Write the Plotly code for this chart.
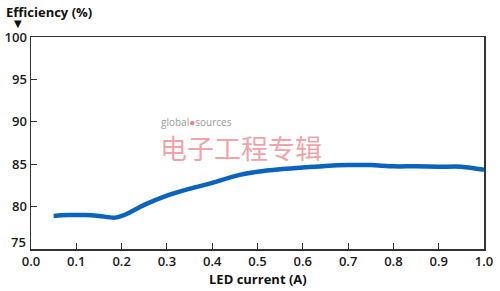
import plotly.graph_objects as go

current = [0.05, 0.08, 0.12, 0.15, 0.185, 0.21, 0.25, 0.30, 0.35, 0.40, 0.45, 0.50, 0.55, 0.60, 0.65, 0.70, 0.75, 0.80, 0.85, 0.90, 0.95, 0.98, 1.00]
efficiency = [78.9, 79.0, 79.0, 78.9, 78.7, 79.1, 80.2, 81.3, 82.1, 82.8, 83.6, 84.1, 84.4, 84.6, 84.8, 84.9, 84.9, 84.75, 84.75, 84.7, 84.7, 84.5, 84.35]

x_ticks = [0.0, 0.1, 0.2, 0.3, 0.4, 0.5, 0.6, 0.7, 0.8, 0.9, 1.0]
x_tick_labels = ["0.0", "0.1", "0.2", "0.3", "0.4", "0.5", "0.6", "0.7", "0.8", "0.9", "1.0"]
y_ticks = [75, 80, 85, 90, 95, 100]
y_tick_labels = ["75", "80", "85", "90", "95", "100"]

W, H, L, R, T, B = 500, 291, 31, 16, 37, 42
pw, ph = W - L - R, H - T - B


def px(x):
    return (x - L) / pw


def py(y):
    return (H - B - y) / ph


tick_font = dict(family="Open Sans, sans-serif", size=13, color="#1a1a1a", weight=600)

fig = go.Figure()
fig.add_trace(go.Scatter(
    x=current, y=efficiency, mode="lines",
    line=dict(color="#0a63bd", width=4.5, shape="spline", smoothing=0.8),
    hoverinfo="skip", showlegend=False,
))

axis_common = dict(
    showgrid=False, zeroline=False, showline=True, linecolor="#333333", linewidth=1.5,
    mirror=True, ticks="inside", ticklen=6, tickcolor="#333333", tickwidth=1,
    automargin=False, tickfont=tick_font,
)

# the lowest y label sits raised above the x-axis labels, as in the reference
y_text_shown = ["" if v == y_ticks[0] else t for v, t in zip(y_ticks, y_tick_labels)]

fig.update_layout(
    width=W, height=H,
    margin=dict(l=L, r=R, t=T, b=B, autoexpand=False),
    paper_bgcolor="white", plot_bgcolor="white",
    xaxis=dict(range=[0, 1.0], tickvals=x_ticks, ticktext=x_tick_labels, **axis_common),
    yaxis=dict(range=[75, 100], tickvals=y_ticks, ticktext=y_text_shown, **axis_common),
    annotations=[
        dict(text=y_tick_labels[0], x=0, y=y_ticks[0], xref="paper", yref="y",
             xanchor="right", yanchor="middle", xshift=-3, yshift=7,
             showarrow=False, font=tick_font),
        dict(text="<b>Efficiency (%)</b>", x=px(4), y=py(12), xref="paper", yref="paper",
             showarrow=False, xanchor="left", yanchor="middle",
             font=dict(family="Open Sans, sans-serif", size=13, color="#111111")),
        dict(text="▼", x=px(18), y=py(24), xref="paper", yref="paper", showarrow=False,
             xanchor="center", yanchor="middle",
             font=dict(family="DejaVu Sans", size=10, color="#111111")),
        dict(text="<b>LED current (A)</b>", x=0.5, y=py(279), xref="paper", yref="paper",
             showarrow=False, xanchor="center", yanchor="middle",
             font=dict(family="Open Sans, sans-serif", size=13, color="#111111")),
        dict(text="global<span style='color:#f08080'>●</span>sources", x=px(159), y=py(122),
             xref="paper", yref="paper", showarrow=False, xanchor="left", yanchor="middle",
             font=dict(family="Open Sans, sans-serif", size=10, color="#9a9a9a")),
        dict(text="电子工程专辑", x=px(158), y=py(147), xref="paper", yref="paper",
             showarrow=False, xanchor="left", yanchor="middle",
             font=dict(family="Noto Sans CJK SC", size=27, color="rgba(238,120,130,0.7)")),
    ],
)

fig.write_html(
    "out.html",
    config={"displayModeBar": False, "staticPlot": True},
    post_script="document.body.style.margin='0';document.body.style.overflow='hidden';",
)
